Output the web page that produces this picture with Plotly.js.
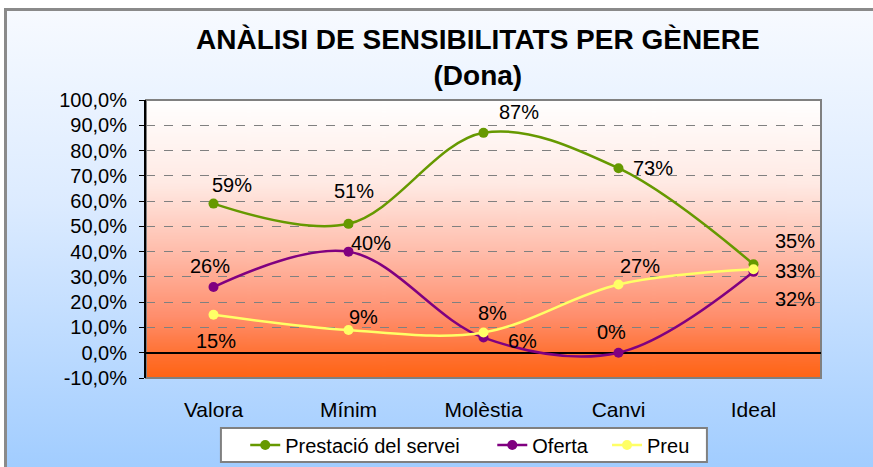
<!DOCTYPE html>
<html>
<head>
<meta charset="utf-8">
<script src="https://cdn.plot.ly/plotly-3.0.1.min.js"></script>
<style>
html,body{margin:0;padding:0;background:#fff;}
#frame{position:absolute;left:4px;top:8px;width:900px;height:480px;border-left:3px solid #8a8a8a;border-top:3px solid #8a8a8a;
background:linear-gradient(to bottom,#f7faff 0%,#dcebff 40%,#9ccaff 100%);}
#chart{position:absolute;left:0;top:0;width:873px;height:467px;}
</style>
</head>
<body>
<div id="frame"></div>
<div id="chart"></div>
<script>
// ---- data ----
const categories = ["Valora", "Mínim", "Molèstia", "Canvi", "Ideal"];
const seriesNames = ["Prestació del servei", "Oferta", "Preu"];
const prestacio = [0.59, 0.51, 0.87, 0.73, 0.35];
const oferta = [0.26, 0.40, 0.06, 0.00, 0.32];
const preu = [0.15, 0.09, 0.08, 0.27, 0.33];
const labelsPrestacio = ["59%", "51%", "87%", "73%", "35%"];
const labelsOferta = ["26%", "40%", "6%", "0%", "32%"];
const labelsPreu = ["15%", "9%", "8%", "27%", "33%"];
const yTickValues = [-0.1, 0, 0.1, 0.2, 0.3, 0.4, 0.5, 0.6, 0.7, 0.8, 0.9, 1.0];
const yTickLabels = ["-10,0%", "0,0%", "10,0%", "20,0%", "30,0%", "40,0%", "50,0%", "60,0%", "70,0%", "80,0%", "90,0%", "100,0%"];
const titleLines = ["ANÀLISI DE SENSIBILITATS PER GÈNERE", "(Dona)"];

// ---- styles ----
const FONT = 'Liberation Sans, Arial, sans-serif';
const colors = ["#669900", "#800080", "#FFFF66"];
const labelShift = [
  [[18,19],[5,33],[35,21],[34,0],[41,23]],
  [[-4,21],[22,9],[39,-3],[-7,21],[41,-27]],
  [[2,-26],[15,13],[9,20],[21,18],[41,-2]]
];
const legendIds = ['legend', 'legend2', 'legend3'];
const legendX = [0.147, 0.513, 0.683];   // paper x of each legend entry
const legendY = -0.241;
const legendBox = {x0: 0.111, x1: 0.831, y0: -0.302, y1: -0.180};

const allValues = [prestacio, oferta, preu];
const allLabels = [labelsPrestacio, labelsOferta, labelsPreu];

// gradient image for plot area
const cv = document.createElement('canvas');
cv.width = 10; cv.height = 400;
const ctx = cv.getContext('2d');
const g = ctx.createLinearGradient(0,0,0,400);
g.addColorStop(0, '#FFFFFF');
g.addColorStop(0.3, '#FFEAE4');
g.addColorStop(0.55, '#FFBCAA');
g.addColorStop(0.78, '#FF8E6C');
g.addColorStop(0.92, '#FF7030');
g.addColorStop(1, '#FF6414');
ctx.fillStyle = g; ctx.fillRect(0,0,10,400);
const gradURL = cv.toDataURL();

const traces = allValues.map((vals, i) => ({
  type: 'scatter',
  mode: 'lines+markers',
  name: seriesNames[i],
  legend: legendIds[i],
  x: categories,
  y: vals,
  line: {color: colors[i], width: 2.5, shape: 'spline', smoothing: 1},
  marker: {color: colors[i], size: 10},
  hoverinfo: 'none'
}));

const annotations = [];
allValues.forEach((vals, i) => {
  vals.forEach((v, j) => {
    annotations.push({
      x: categories[j], y: v, xref: 'x', yref: 'y',
      text: allLabels[i][j], showarrow: false,
      xshift: labelShift[i][j][0], yshift: labelShift[i][j][1],
      font: {family: FONT, size: 20, color: '#000'}
    });
  });
});
annotations.push({
  xref: 'paper', yref: 'paper', x: 0.492, y: 1.153, xanchor: 'center', yanchor: 'middle',
  showarrow: false, text: '<b>' + titleLines.join('</b><br><b>') + '</b>',
  font: {family: FONT, size: 28, color: '#000'}
});

const layout = {
  width: 873, height: 467,
  margin: {l: 146, r: 52, t: 100, b: 89, autoexpand: false},
  paper_bgcolor: 'rgba(0,0,0,0)',
  plot_bgcolor: 'rgba(0,0,0,0)',
  font: {family: FONT, size: 20, color: '#000'},
  xaxis: {
    type: 'category', range: [-0.5, 4.5],
    showgrid: false, zeroline: false, showline: false,
    ticks: '', ticklabelstandoff: 17,
    tickfont: {size: 21}, fixedrange: true
  },
  yaxis: {
    range: [-0.1, 1.0], tickmode: 'array', tickvals: yTickValues, ticktext: yTickLabels,
    showgrid: true, gridcolor: '#808080', griddash: 'dash', gridwidth: 1,
    zeroline: true, zerolinecolor: '#000', zerolinewidth: 2,
    showline: true, linecolor: '#000', linewidth: 2,
    ticks: 'outside', ticklen: 5, tickcolor: '#000',
    ticklabelstandoff: 8,
    tickfont: {size: 20}, fixedrange: true
  },
  images: [{
    source: gradURL, xref: 'paper', yref: 'paper',
    x: 0, y: 1, sizex: 1, sizey: 1, sizing: 'stretch',
    xanchor: 'left', yanchor: 'top', layer: 'below'
  }],
  shapes: [{
    type: 'rect', xref: 'paper', yref: 'paper', x0: 0, x1: 1, y0: 0, y1: 1,
    line: {color: '#808080', width: 2}, layer: 'below'
  }, {
    type: 'rect', xref: 'paper', yref: 'paper',
    x0: legendBox.x0, x1: legendBox.x1, y0: legendBox.y0, y1: legendBox.y1,
    fillcolor: '#FFFFFF', line: {color: '#808080', width: 2}, layer: 'below'
  }],
  annotations: annotations,
  showlegend: true
};
legendIds.forEach((id, i) => {
  layout[id] = {
    orientation: 'h', x: legendX[i], xanchor: 'left', y: legendY, yanchor: 'middle',
    bgcolor: 'rgba(0,0,0,0)', borderwidth: 0,
    font: {family: FONT, size: 20, color: '#000'}, itemwidth: 30
  };
});

Plotly.newPlot('chart', traces, layout, {displayModeBar: false, staticPlot: true});
</script>
</body>
</html>
